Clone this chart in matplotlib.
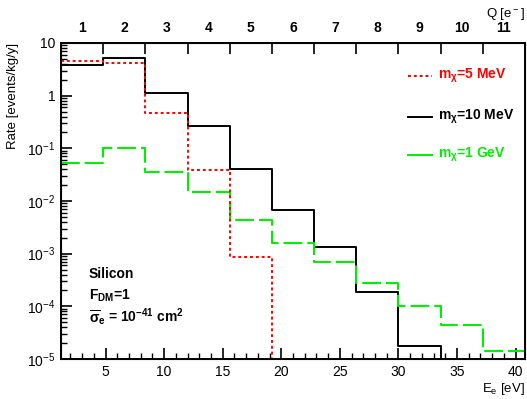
import numpy as np
import matplotlib
matplotlib.use("Agg")
import matplotlib.pyplot as plt
from matplotlib.ticker import FixedLocator, LogLocator, NullFormatter, FixedFormatter

plt.rcParams['font.family'] = ['Liberation Sans', 'DejaVu Sans']
plt.rcParams['mathtext.fontset'] = 'custom'
plt.rcParams['mathtext.rm'] = 'Liberation Sans'
plt.rcParams['mathtext.it'] = 'Liberation Sans:italic'
plt.rcParams['mathtext.bf'] = 'Liberation Sans:bold'

# bin edges in E_e [eV] (one bin per electron, Q = 1..11)
edges = np.array([1.2, 4.8, 8.4, 12.0, 15.6, 19.2, 22.8, 26.4, 30.0, 33.6, 37.2, 40.8])
q_labels = ["1", "2", "3", "4", "5", "6", "7", "8", "9", "10", "11"]

rate_5mev = [4.5, 4.2, 0.46, 0.039, 8.8e-4, 0, 0, 0, 0, 0, 0]
rate_10mev = [3.8, 5.25, 1.14, 0.26, 0.041, 0.0068, 0.00136, 1.9e-4, 1.8e-5, 0, 0]
rate_1gev = [0.052, 0.103, 0.036, 0.0147, 0.0044, 0.0016, 6.9e-4, 2.75e-4, 1.0e-4, 4.5e-5, 1.45e-5]

fig = plt.figure(figsize=(5.27, 3.99), dpi=100)
ax = fig.add_axes([61/527, 40/399, 464/527, 316/399])

def draw(vals, **kw):
    v = np.array(vals, dtype=float)
    v = np.append(v, v[-1])
    ax.step(edges, v, where='post', **kw)

draw(rate_10mev, color='black', lw=1.4)
draw(rate_1gev, color='#00ee00', lw=1.5, dashes=(9, 2.4))
draw(rate_5mev, color='#ff0000', lw=1.4, dashes=(1.5, 1.5))

ax.set_yscale('log', nonpositive='clip')
ax.set_xlim(edges[0], edges[-1])
ax.set_ylim(1e-5, 10)

ax.xaxis.set_major_locator(FixedLocator([5, 10, 15, 20, 25, 30, 35, 40]))
ax.xaxis.set_minor_locator(FixedLocator(np.arange(2, 41, 1)))
ax.yaxis.set_major_locator(LogLocator(base=10, numticks=10))
ax.yaxis.set_minor_locator(LogLocator(base=10, subs=np.arange(2, 10), numticks=20))
ax.yaxis.set_minor_formatter(NullFormatter())
ylab = {1e-5: r'$10^{-5}$', 1e-4: r'$10^{-4}$', 1e-3: r'$10^{-3}$', 1e-2: r'$10^{-2}$',
        1e-1: r'$10^{-1}$', 1: '1', 10: '10'}
ax.yaxis.set_major_formatter(plt.FuncFormatter(lambda v, p: ylab.get(round(v, 8), '')))

ax.tick_params(which='major', direction='in', length=8, width=1.2, labelsize=10, pad=4)
ax.tick_params(which='minor', direction='in', length=4, width=1.0)
ax.tick_params(top=False, right=False)
for s in ax.spines.values():
    s.set_linewidth(1.4)

# top axis in Q
top = ax.twiny()
top.set_xlim(ax.get_xlim())
top.xaxis.set_major_locator(FixedLocator(edges[1:-1]))
top.xaxis.set_major_formatter(NullFormatter())
top.xaxis.set_minor_locator(FixedLocator((edges[:-1] + edges[1:]) / 2))
top.xaxis.set_minor_formatter(FixedFormatter(q_labels))
top.tick_params(which='major', direction='in', length=8, width=1.2)
top.tick_params(which='minor', length=0, labelsize=10, pad=6)
for lab in top.xaxis.get_minorticklabels():
    lab.set_fontweight('bold')

# legend
leg = [("#ff0000", (1.5, 1.5), r"$\mathbf{m_{\chi}}$=5 MeV", 0.896),
       ("black", None, r"$\mathbf{m_{\chi}}$=10 MeV", 0.766),
       ("#00ee00", None, r"$\mathbf{m_{\chi}}$=1 GeV", 0.646)]
for col, ds, txt, yy in leg:
    kw = dict(color=col, lw=1.4, transform=ax.transAxes)
    if ds:
        kw['dashes'] = ds
    ax.plot([0.748, 0.80], [yy, yy], **kw)
    ax.text(0.812, yy, txt, color=col, fontsize=10, fontweight='bold',
            va='center', ha='left', transform=ax.transAxes)

ax.text(0.06, 0.268, "Silicon", fontsize=10, fontweight='bold', va='center', transform=ax.transAxes)
ax.text(0.06, 0.2, r"F$\mathbf{_{DM}}$=1", fontsize=10, fontweight='bold', va='center', transform=ax.transAxes)
ax.text(0.06, 0.133, r"$\mathbf{\overline{\sigma}_{e}}$ = 10$\mathbf{^{-41}}$ cm$\mathbf{^2}$",
        fontsize=10, fontweight='bold', va='center', transform=ax.transAxes)

fig.text(13/527, 1 - 43/399, "Rate [events/kg/y]", rotation=90, fontsize=9.5, va='top', ha='center')
fig.text(525/527, 1 - 397/399, r"E$_{\rm e}$ [eV]", fontsize=9.5, va='bottom', ha='right')
fig.text(525/527, 1 - 14/399, r"Q [e$^{\rm -}$]", fontsize=9.5, va='center', ha='right')

fig.savefig("out.png", dpi=100)
